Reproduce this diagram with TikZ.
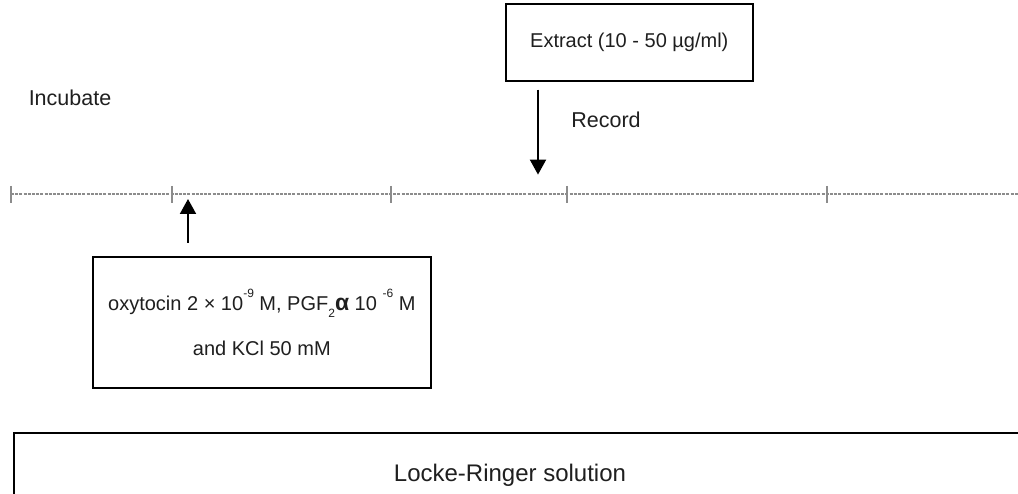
\documentclass[tikz,border=0pt]{standalone}
\usepackage{fontspec}
\setmainfont{Liberation Sans}
\usetikzlibrary{arrows.meta,calc}
\newcommand{\mysup}[1]{\raisebox{0.62em}{\fontsize{12}{12}\selectfont #1}}
\newcommand{\mysub}[1]{\raisebox{-0.35em}{\fontsize{12}{12}\selectfont #1}}
\begin{document}
\begin{tikzpicture}[x=1pt,y=-1pt,
  lbl/.style={font=\fontsize{20}{24}\selectfont, inner sep=0pt, text=black!88},
  biglbl/.style={font=\fontsize{21.5}{26}\selectfont, inner sep=0pt, text=black!88},
  boxed/.style={draw=black, line width=1.6pt},
  tmark/.style={draw=gray!90, line width=1.1pt},
  tline/.style={draw=gray!90, dash pattern=on 3pt off 1.2pt, line width=1.3pt},
  arr/.style={line width=2pt, -{Triangle[length=15pt,width=16pt]}}]
\useasboundingbox (0,0) rectangle (1018,494);
\clip (0,0) rectangle (1018,494);
\fill[white] (0,0) rectangle (1018,494);

\node[biglbl] (inc) at (70,98) {Incubate};
\node[boxed, lbl, inner sep=0pt, minimum width=247pt, minimum height=77pt, anchor=north west] (ext) at (505,3) {Extract (10 - 50 µg/ml)};
\node[biglbl] (rec) at (606,120) {Record};

\coordinate (t0) at (11,194);
\coordinate (t5) at (1018,194);
\draw[tline] (t0) -- (t5);
\foreach \x in {11,172,391,567,827} \draw[tmark] (\x,186) -- (\x,203);

\node[boxed, lbl, minimum width=338pt, minimum height=131pt, anchor=north west, align=center] (oxy) at (92,256)
 {oxytocin 2 × 10\mysup{-9} M, PGF\mysub{2}{\fontsize{23}{24}\selectfont\textbf{α}} 10 \mysup{-6} M\\[21pt] and KCl 50 mM};

\coordinate (upA) at ($(oxy.north west)+(96,-13)$);
\coordinate (upB) at ($(oxy.north west)+(96,-57)$);
\draw[arr] (upA) -- (upB);

\coordinate (dnA) at ($(ext.south west)+(33,8)$);
\coordinate (dnB) at ($(ext.south west)+(33,93)$);
\draw[arr] (dnA) -- (dnB);

\node[boxed, anchor=north west, minimum width=1100pt, minimum height=120pt] (lr) at (13,432) {};
\node[font=\fontsize{24}{28}\selectfont, inner sep=0pt, text=black!88] (lrt) at (510,475) {Locke-Ringer solution};
\end{tikzpicture}
\end{document}
